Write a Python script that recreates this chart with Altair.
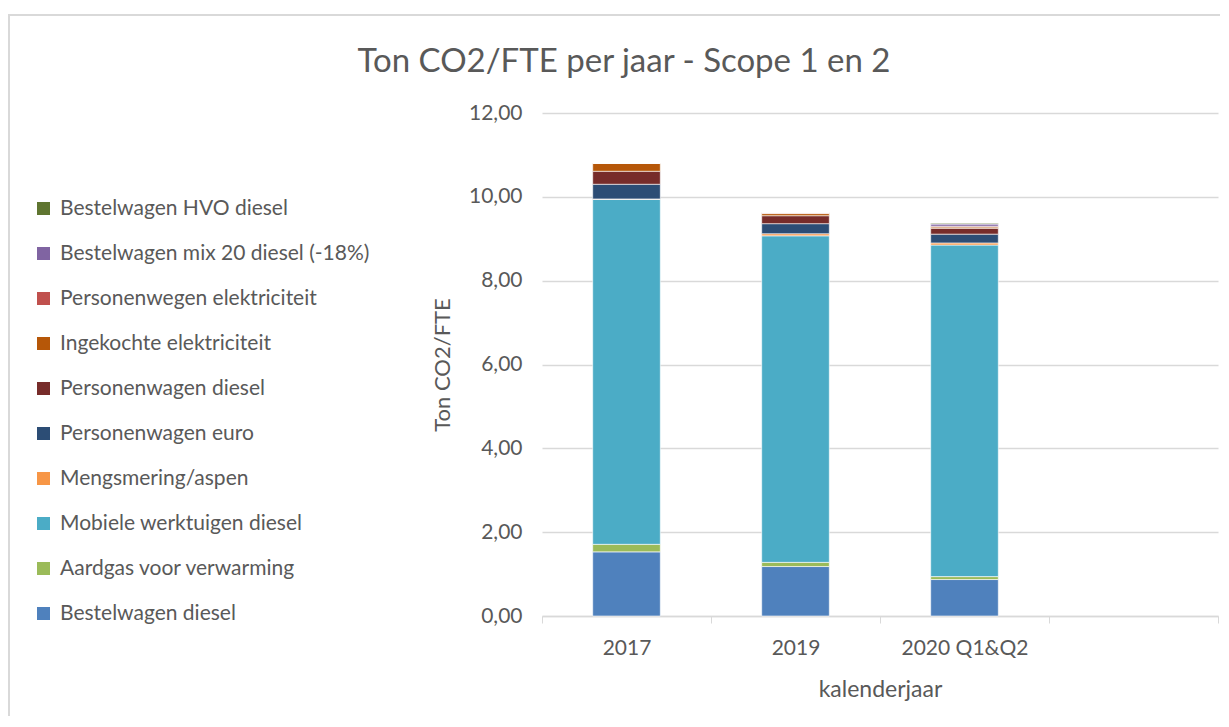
import altair as alt
import pandas as pd

years = ["2017", "2019", "2020 Q1&Q2"]
all_categories = ["2017", "2019", "2020 Q1&Q2", " "]

series = [
    "Bestelwagen diesel",
    "Aardgas voor verwarming",
    "Mobiele werktuigen diesel",
    "Mengsmering/aspen",
    "Personenwagen euro",
    "Personenwagen diesel",
    "Ingekochte elektriciteit",
    "Personenwegen elektriciteit",
    "Bestelwagen mix 20 diesel (-18%)",
    "Bestelwagen HVO diesel",
]
colors = [
    "#4F81BD", "#9BBB59", "#4BACC6", "#F79646", "#2C4D75",
    "#772C2A", "#B65708", "#C0504D", "#8064A2", "#5F7530",
]

bestelwagen_diesel = [1.53, 1.18, 0.87]
aardgas = [0.18, 0.10, 0.07]
mobiele_werktuigen = [8.23, 7.79, 7.91]
mengsmering = [0.01, 0.05, 0.05]
personenwagen_euro = [0.35, 0.24, 0.21]
personenwagen_diesel = [0.31, 0.19, 0.14]
ingekochte_elektriciteit = [0.19, 0.05, 0.03]
personenwegen_elektriciteit = [0.00, 0.02, 0.02]
bestelwagen_mix20 = [0.00, 0.00, 0.05]
bestelwagen_hvo = [0.00, 0.00, 0.02]

values = [
    bestelwagen_diesel, aardgas, mobiele_werktuigen, mengsmering,
    personenwagen_euro, personenwagen_diesel, ingekochte_elektriciteit,
    personenwegen_elektriciteit, bestelwagen_mix20, bestelwagen_hvo,
]

rows = []
for i, (name, vals) in enumerate(zip(series, values)):
    for y, v in zip(years, vals):
        rows.append({"jaar": y, "serie": name, "waarde": v, "volgorde": i})
df = pd.DataFrame(rows)

FONT = "Lato"
GRAY = "#595959"

bars = alt.Chart(df).mark_bar(width={"band": 0.4}, stroke="white", strokeWidth=0.6).encode(
    x=alt.X(
        "jaar:N",
        scale=alt.Scale(domain=all_categories, paddingInner=0, paddingOuter=0),
        sort=all_categories,
        axis=alt.Axis(
            title="kalenderjaar",
            labelAngle=0,
            labelFontSize=21,
            titleFontSize=23,
            labelPadding=14,
            titlePadding=20,
            tickBand="extent",
            tickSize=7,
            tickColor="#D9D9D9",
            domainColor="#D9D9D9",
            domainWidth=1.5,
            grid=False,
        ),
    ),
    y=alt.Y(
        "waarde:Q",
        stack="zero",
        scale=alt.Scale(domain=[0, 12], nice=False),
        axis=alt.Axis(
            title="Ton CO2/FTE",
            values=[0, 2, 4, 6, 8, 10, 12],
            labelExpr="replace(format(datum.value, '.2f'), '.', ',')",
            labelFontSize=21,
            titleFontSize=22,
            labelPadding=20,
            titlePadding=14,
            ticks=False,
            domain=False,
            gridColor="#D9D9D9",
            gridWidth=1.5,
        ),
    ),
    color=alt.Color(
        "serie:N",
        scale=alt.Scale(domain=series[::-1], range=colors[::-1]),
        legend=alt.Legend(
            title=None,
            orient="none",
            legendX=-509,
            legendY=85,
            symbolType="square",
            symbolSize=170,
            symbolStrokeWidth=0,
            labelFontSize=21,
            labelColor=GRAY,
            labelFont=FONT,
            labelLimit=500,
            rowPadding=23,
            labelOffset=6,
        ),
    ),
    order=alt.Order("volgorde:Q", sort="ascending"),
)

frame = alt.Chart(pd.DataFrame({"k": [0]})).mark_rect(
    fill=None, stroke="#D9D9D9", strokeWidth=2
).encode(
    x=alt.value(-533), x2=alt.value(760), y=alt.value(-98), y2=alt.value(760)
)

chart = alt.layer(frame, bars).properties(
    width=676,
    height=503,
    autosize=alt.AutoSizeParams(type="none"),
    padding={"left": 534, "top": 105, "right": 2, "bottom": 100},
    title=alt.TitleParams(
        "Ton CO2/FTE per jaar - Scope 1 en 2",
        fontSize=33,
        font=FONT,
        fontWeight="normal",
        color=GRAY,
        anchor="middle",
        dx=-256,
        offset=0,
        dy=65,
    ),
).configure_view(stroke=None).configure_axis(
    labelFont=FONT,
    titleFont=FONT,
    labelColor=GRAY,
    titleColor=GRAY,
    titleFontWeight="normal",
)

chart.save("out.html", embed_options={"renderer": "svg", "actions": False})
